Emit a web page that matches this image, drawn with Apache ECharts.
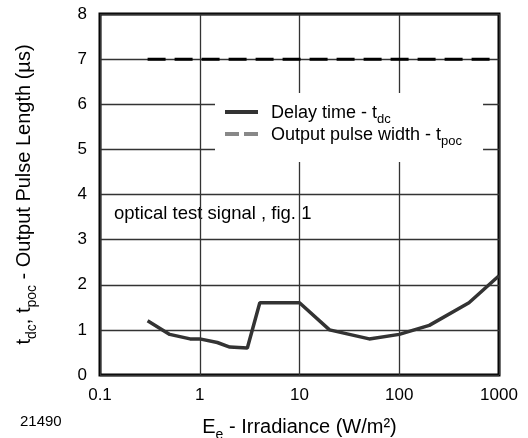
<!DOCTYPE html>
<html>
<head>
<meta charset="utf-8">
<script src="https://cdn.jsdelivr.net/npm/echarts@6/dist/echarts.min.js"></script>
<style>
  html, body { margin: 0; padding: 0; background: #fff; }
  #chart { width: 528px; height: 438px; }
</style>
</head>
<body>
<div id="chart"></div>
<script>
// irradiance (W/m2) and delay time t_dc (us)
const irradiance = [0.3, 0.5, 0.8, 1, 1.5, 2, 3, 4, 10, 20, 50, 100, 200, 500, 1000];
const delayTime = [1.2, 0.9, 0.8, 0.8, 0.72, 0.62, 0.6, 1.6, 1.6, 1.0, 0.8, 0.9, 1.1, 1.6, 2.2];
// output pulse width t_poc (constant)
const pulseX = [0.3, 1000];
const pulseWidth = [7, 7];
const xTicks = ['0.1', '1', '10', '100', '1000'];

const font = 'Liberation Sans, Arial, Helvetica, sans-serif';

const chart = echarts.init(document.getElementById('chart'));

const nameRich = {
    a: { fontSize: 20, fontFamily: font, color: '#000', verticalAlign: 'bottom', lineHeight: 22 },
    s: { fontSize: 14, fontFamily: font, color: '#000', verticalAlign: 'bottom', lineHeight: 14, padding: [0, 0, -5, 0] },
};

const option = {
    animation: false,
    textStyle: { fontFamily: font },
    grid: {
        left: 100,
        right: 29,
        top: 14,
        bottom: 63,
        outerBoundsMode: 'none',
        containLabel: false,
        show: true,
        borderColor: '#000',
        borderWidth: 3,
        backgroundColor: 'transparent',
    },
    legend: {
        orient: 'vertical',
        left: 215,
        top: 93,
        padding: [11, 21, 14, 10],
        backgroundColor: '#fff',
        itemWidth: 33,
        itemHeight: 4,
        itemGap: 0,
        data: [{
            name: 'Delay time - tdc',
            icon: 'rect',
            itemStyle: { color: '#333' },
        }, {
            name: 'Output pulse width - tpoc',
            icon: 'path://M0,0 L14,0 L14,4 L0,4 Z M19,0 L33,0 L33,4 L19,4 Z',
            itemStyle: { color: '#888' },
        }],
        formatter: function (name) {
            if (name === 'Delay time - tdc') return '{g|}{a|Delay time - t}{s|dc}';
            return '{g|}{a|Output pulse width - t}{s|poc}';
        },
        textStyle: {
            fontFamily: font,
            color: '#000',
            rich: {
                g: { width: 8 },
                a: { fontSize: 18, fontFamily: font, color: '#000', lineHeight: 20, verticalAlign: 'bottom' },
                s: { fontSize: 13, fontFamily: font, color: '#000', lineHeight: 12, verticalAlign: 'bottom', padding: [0, 0, -4, 0] },
            },
        },
    },
    xAxis: {
        type: 'log',
        logBase: 10,
        min: 0.1,
        max: 1000,
        name: '{a|E}{s|e}{a| - Irradiance (W/m²)}',
        nameLocation: 'middle',
        nameGap: 40,
        nameTextStyle: { rich: nameRich },
        axisLine: { show: false },
        axisTick: { show: false },
        axisLabel: {
            color: '#000',
            fontSize: 17,
            fontFamily: font,
            margin: 12,
            formatter: function (v) {
                const i = Math.round(Math.log10(v)) + 1;
                return xTicks[i] !== undefined ? xTicks[i] : '';
            },
        },
        splitLine: { show: true, lineStyle: { color: '#333', width: 1.3 } },
    },
    yAxis: {
        type: 'value',
        min: 0,
        max: 8,
        interval: 1,
        name: '{a|t}{s|dc}{a|, t}{s|poc}{a| - Output Pulse Length (µs)}',
        nameLocation: 'middle',
        nameRotate: 90,
        nameGap: 66,
        nameTextStyle: { rich: nameRich },
        axisLine: { show: false },
        axisTick: { show: false },
        axisLabel: { color: '#000', fontSize: 17, fontFamily: font, margin: 13 },
        splitLine: { show: true, lineStyle: { color: '#333', width: 1.3 } },
    },
    graphic: [{
        type: 'group',
        left: 105,
        top: 197,
        z: 5,
        children: [{
            type: 'rect',
            shape: { x: 0, y: 0, width: 215, height: 33 },
            style: { fill: '#fff' },
        }, {
            type: 'text',
            x: 9,
            y: 7,
            style: { text: 'optical test signal , fig. 1', fontSize: 18.5, fontFamily: font, fill: '#000' },
        }],
    }, {
        type: 'text',
        left: 20,
        top: 414,
        style: { text: '21490', fontSize: 15, fontFamily: font, fill: '#000' },
    }],
    series: [{
        name: 'Delay time - tdc',
        type: 'line',
        data: irradiance.map((x, i) => [x, delayTime[i]]),
        showSymbol: false,
        symbol: 'none',
        lineStyle: { color: '#333', width: 3.5 },
        itemStyle: { color: '#333' },
        z: 3,
    }, {
        name: 'Output pulse width - tpoc',
        type: 'line',
        data: pulseX.map((x, i) => [x, pulseWidth[i]]),
        showSymbol: false,
        symbol: 'none',
        lineStyle: { color: '#000', width: 3, type: [18, 9] },
        itemStyle: { color: '#888' },
        z: 3,
    }],
};

chart.setOption(option);
</script>
</body>
</html>
